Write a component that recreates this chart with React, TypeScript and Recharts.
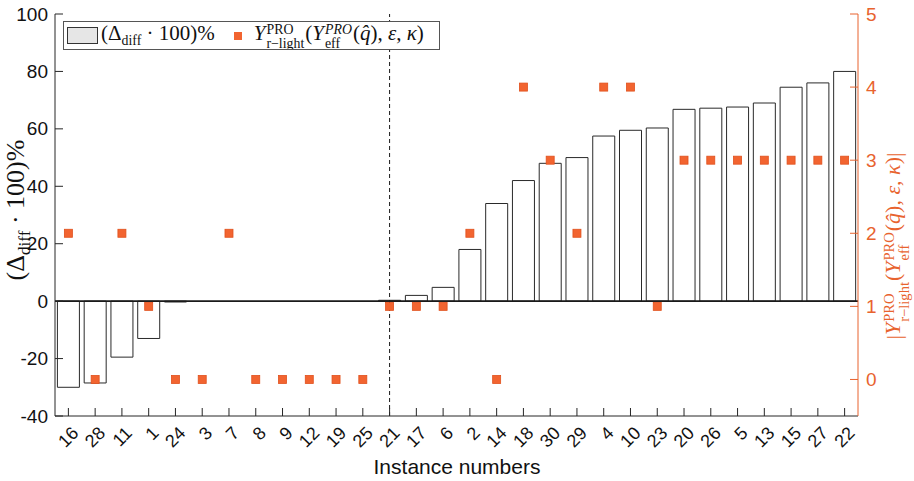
import { Bar, ComposedChart, ReferenceLine, Scatter, XAxis, YAxis } from 'recharts';

const instances = ['16', '28', '11', '1', '24', '3', '7', '8', '9', '12', '19', '25', '21', '17', '6', '2', '14', '18', '30', '29', '4', '10', '23', '20', '26', '5', '13', '15', '27', '22'];
const diffPercent = [-30, -28.5, -19.5, -13, -0.3, 0, 0, 0, 0, 0, 0, 0, 0.3, 2, 4.8, 18, 34, 42, 48, 50, 57.5, 59.5, 60.3, 66.8, 67.2, 67.6, 69, 74.5, 76, 80];
const rLightSize = [2, 0, 2, 1, 0, 0, 2, 0, 0, 0, 0, 0, 1, 1, 1, 2, 0, 4, 3, 2, 4, 4, 1, 3, 3, 3, 3, 3, 3, 3];
const leftTicks = [-40, -20, 0, 20, 40, 60, 80, 100];
const rightTicks = [0, 1, 2, 3, 4, 5];

const data = instances.map((name, i) => ({ name, diff: diffPercent[i], size: rLightSize[i] }));

const AXIS = '#262626';
const ORANGE = '#e8632e';
const MARKER = '#f26430';
const SANS = '"Liberation Sans", Arial, sans-serif';
const SERIF = '"Liberation Serif", "Times New Roman", serif';

const LeftTick = ({ x, y, payload }: any) => (
  <g>
    <line x1={x} x2={x + 8} y1={y} y2={y} stroke={AXIS} />
    <text x={x - 7} y={y} textAnchor="end" dominantBaseline="central" fontSize={19} fontFamily={SANS} fill="#111">
      {payload.value}
    </text>
  </g>
);

const RightTick = ({ x, y, payload }: any) => (
  <g>
    <line x1={x} x2={x - 8} y1={y} y2={y} stroke={ORANGE} />
    <text x={x + 8} y={y} textAnchor="start" dominantBaseline="central" fontSize={19} fontFamily={SANS} fill={ORANGE}>
      {payload.value}
    </text>
  </g>
);

const BottomTick = ({ x, y, payload }: any) => (
  <g>
    <line x1={x} x2={x} y1={y} y2={y - 8} stroke={AXIS} />
    <text
      x={x + 7}
      y={y + 14}
      textAnchor="end"
      dominantBaseline="central"
      fontSize={18}
      fontFamily={SANS}
      fill="#111"
      transform={`rotate(-45, ${x + 7}, ${y + 14})`}
    >
      {payload.value}
    </text>
  </g>
);

const SquareDot = ({ cx, cy }: any) => (
  <rect x={cx - 4} y={cy - 4} width={8} height={8} fill={MARKER} stroke="#e0501c" strokeWidth={0.8} />
);

const Stack = ({ top, bottom }: { top: any; bottom: any }) => (
  <span
    style={{
      display: 'inline-flex',
      flexDirection: 'column',
      fontSize: '0.66em',
      lineHeight: 1,
      verticalAlign: '0.42em',
      margin: '0 1px',
    }}
  >
    <span>{top}</span>
    <span>{bottom}</span>
  </span>
);

const RLight = ({ italicPro }: { italicPro: boolean }) => (
  <span>
    <i>Y</i>
    <Stack top="PRO" bottom="r−light" />(<i>Y</i>
    <Stack top={italicPro ? <i>PRO</i> : 'PRO'} bottom="eff" />(<i>q̂</i>), <i>ε</i>, <i>κ</i>)
  </span>
);

export default function App() {
  return (
    <div style={{ position: 'absolute', left: 0, top: 0, width: 914, height: 481, background: '#fff', overflow: 'hidden' }}>
      <ComposedChart width={914} height={481} data={data} margin={{ top: 14, right: 0, bottom: 0, left: 0 }} barCategoryGap="9%">
        <XAxis
          dataKey="name"
          interval={0}
          height={65}
          tickSize={0}
          tickMargin={0}
          tickLine={false}
          axisLine={{ stroke: AXIS }}
          tick={<BottomTick />}
        />
        <YAxis
          yAxisId="left"
          width={55}
          domain={[-40, 100]}
          ticks={leftTicks}
          tickSize={0}
          tickMargin={0}
          tickLine={false}
          axisLine={{ stroke: AXIS }}
          tick={<LeftTick />}
        />
        <YAxis
          yAxisId="right"
          orientation="right"
          width={56}
          domain={[-0.5, 5]}
          ticks={rightTicks}
          tickSize={0}
          tickMargin={0}
          tickLine={false}
          axisLine={{ stroke: ORANGE }}
          tick={<RightTick />}
        />
        <Bar yAxisId="left" dataKey="diff" fill="#fff" stroke="#2a2a2a" strokeWidth={1} isAnimationActive={false} />
        <ReferenceLine yAxisId="left" y={0} stroke="#1a1a1a" strokeWidth={1.6} />
        <ReferenceLine yAxisId="left" x="21" stroke="#1a1a1a" strokeDasharray="4 3" />
        <Scatter yAxisId="right" dataKey="size" shape={<SquareDot />} isAnimationActive={false} />
      </ComposedChart>

      <div
        style={{
          position: 'absolute',
          left: 63,
          top: 21,
          width: 377,
          height: 29,
          border: '1px solid #555',
          background: '#fff',
          display: 'flex',
          alignItems: 'center',
          fontFamily: SERIF,
          fontSize: 21,
          whiteSpace: 'nowrap',
          boxSizing: 'border-box',
          color: '#111',
          overflow: 'hidden',
        }}
      >
        <span style={{ display: 'inline-block', width: 31, height: 17, background: '#e6e6e6', border: '1px solid #333', boxSizing: 'border-box', marginLeft: 3, marginRight: 3 }} />
        <span>
          (Δ<sub style={{ fontSize: '0.66em' }}>diff</sub> · 100)%
        </span>
        <span style={{ display: 'inline-block', width: 8, height: 8, background: MARKER, marginLeft: 19, marginRight: 12 }} />
        <RLight italicPro={true} />
      </div>

      <div
        style={{
          position: 'absolute',
          left: 18,
          top: 210,
          transform: 'translate(-50%, -50%) rotate(-90deg)',
          fontFamily: SERIF,
          fontSize: 26,
          lineHeight: 1,
          whiteSpace: 'nowrap',
          color: '#111',
        }}
      >
        (Δ<sub style={{ fontSize: '0.66em' }}>diff</sub> · 100)%
      </div>

      <div
        style={{
          position: 'absolute',
          left: 897,
          top: 246,
          transform: 'translate(-50%, -50%) rotate(-90deg)',
          fontFamily: SERIF,
          fontSize: 22,
          lineHeight: 1,
          whiteSpace: 'nowrap',
          color: ORANGE,
        }}
      >
        |<RLight italicPro={false} />|
      </div>

      <div
        style={{
          position: 'absolute',
          left: 457,
          top: 467,
          transform: 'translate(-50%, -50%)',
          fontFamily: SANS,
          fontSize: 21,
          whiteSpace: 'nowrap',
          color: '#111',
        }}
      >
        Instance numbers
      </div>
    </div>
  );
}
